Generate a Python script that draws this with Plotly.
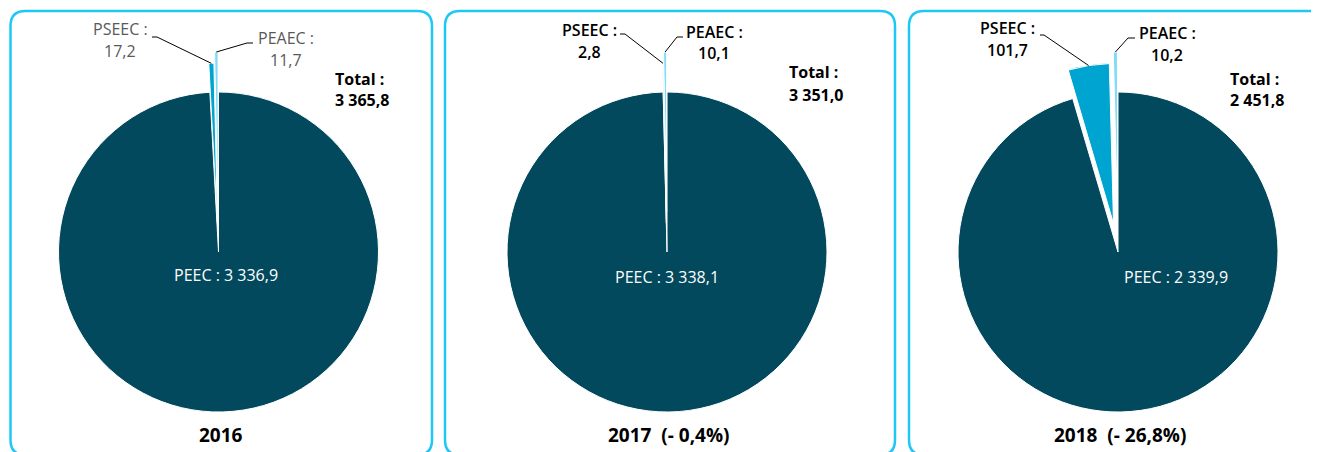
import math
import plotly.graph_objects as go

W, H = 1319, 452
OFF = 8  # page body margin of the html output

# data
years = ['2016', '2017', '2018']
categories = ['PEEC', 'PSEEC', 'PEAEC']
peec = [3336.9, 3338.1, 2339.9]
pseec = [17.2, 2.8, 101.7]
peaec = [11.7, 10.1, 10.2]

# style
slice_colors = ['#02495d', '#00a4d0', '#82dcf7']
pulls = [0, 0.18, 0.25]
border_color = '#1ec8f5'
FONT = 'Open Sans, Noto Sans, sans-serif'

# layout (pixels)
centers_x = [218.5, 667, 1118]
center_y = 252
radius = 160
panels = [(10.5, 432), (445, 895), (909, 1335)]
pseec_lbl = [(120, 29, 51), (589, 30, 52), (1007, 28, 50)]
peaec_lbl = [(286, 38, 60), (714, 32, 53), (1167, 33, 55)]
total_lbl = [(333, 79, 100), (787, 72, 95), (1228, 79, 100)]
peec_lbl = [(226, 275), (667, 277), (1176, 277)]
pseec_line = [((152, 37), (157, 37)), ((620, 34), (625, 34)), ((1040, 35), (1044, 35))]
peaec_line = [((253, 43), (247, 43)), ((683, 37), (677, 37)), ((1135, 38), (1128, 38))]
lbl_colors = ['#595959', '#000000', '#000000']
lbl_weights = [400, 600, 600]


def fr(v):
    # french format: 3 365,8
    s = f'{abs(v):,.1f}'.replace(',', ' ').replace('.', ',')
    return ('- ' if v < 0 else '') + s


def px(x):
    return (x - OFF) / W


def py(y):
    return 1 - (y - OFF) / H


def slice_point(vals, k, cx):
    tot = sum(vals)
    mid = (sum(vals[:k]) + vals[k] / 2) / tot
    a = 2 * math.pi * mid
    R = radius * (1 + pulls[k])
    return cx + R * math.sin(a), center_y - R * math.cos(a)


fig = go.Figure()
annotations = []
shapes = []


def text(x, y, s, size=16, color='black', weight=400, xanchor='center'):
    annotations.append(dict(x=px(x), y=py(y), xref='paper', yref='paper', text=s,
                            showarrow=False, xanchor=xanchor, yanchor='middle',
                            font=dict(family=FONT, size=size, color=color, weight=weight)))


for i, yr in enumerate(years):
    vals = [peec[i], pseec[i], peaec[i]]
    cx = centers_x[i]
    half = radius * (1 + max(pulls))
    fig.add_trace(go.Pie(
        labels=categories, values=vals, sort=False, direction='clockwise', rotation=0,
        pull=pulls, textinfo='none', showlegend=False,
        marker=dict(colors=slice_colors, line=dict(color='white', width=1)),
        domain=dict(x=[px(cx - half), px(cx + half)], y=[py(center_y + half), py(center_y - half)]),
    ))

    # panel frame
    x0, x1 = panels[i]
    y0, y1 = 11, 455
    rr = 15
    path = (f'M {px(x0)},{py(y0 + rr)} Q {px(x0)},{py(y0)} {px(x0 + rr)},{py(y0)} '
            f'L {px(x1 - rr)},{py(y0)} Q {px(x1)},{py(y0)} {px(x1)},{py(y0 + rr)} '
            f'L {px(x1)},{py(y1 - rr)} Q {px(x1)},{py(y1)} {px(x1 - rr)},{py(y1)} '
            f'L {px(x0 + rr)},{py(y1)} Q {px(x0)},{py(y1)} {px(x0)},{py(y1 - rr)} Z')
    shapes.append(dict(type='path', path=path, xref='paper', yref='paper',
                       line=dict(color=border_color, width=2.5), layer='below'))

    # leader lines
    for k, ln in ((1, pseec_line[i]), (2, peaec_line[i])):
        sx, sy = slice_point(vals, k, cx)
        (ax, ay), (bx, by) = ln
        shapes.append(dict(type='path', xref='paper', yref='paper',
                           path=f'M {px(ax)},{py(ay)} L {px(bx)},{py(by)} L {px(sx)},{py(sy)}',
                           line=dict(color='black', width=1)))

    c, w = lbl_colors[i], lbl_weights[i]
    x, ya, yb = pseec_lbl[i]
    text(x, ya, 'PSEEC :', color=c, weight=w)
    text(x, yb, fr(pseec[i]), color=c, weight=w)
    x, ya, yb = peaec_lbl[i]
    text(x, ya, 'PEAEC :', color=c, weight=w)
    text(x, yb, fr(peaec[i]), color=c, weight=w)
    x, ya, yb = total_lbl[i]
    text(x, ya, 'Total :', weight=700, xanchor='left')
    text(x, yb, fr(sum(vals)), weight=700, xanchor='left')
    text(*peec_lbl[i], f'PEEC : {fr(peec[i])}', color='white')

    # year caption with change vs previous year
    cap = yr
    if i > 0:
        prev = peec[i - 1] + pseec[i - 1] + peaec[i - 1]
        chg = (sum(vals) - prev) / prev * 100
        cap = f'{yr}  ({fr(chg)}%)'
    text(centers_x[i] + 2, 435, cap, size=19, weight=700)

fig.update_layout(
    width=W, height=H,
    margin=dict(l=0, r=0, t=0, b=0),
    paper_bgcolor='white', plot_bgcolor='white',
    annotations=annotations, shapes=shapes,
)

fig.write_html('out.html')
